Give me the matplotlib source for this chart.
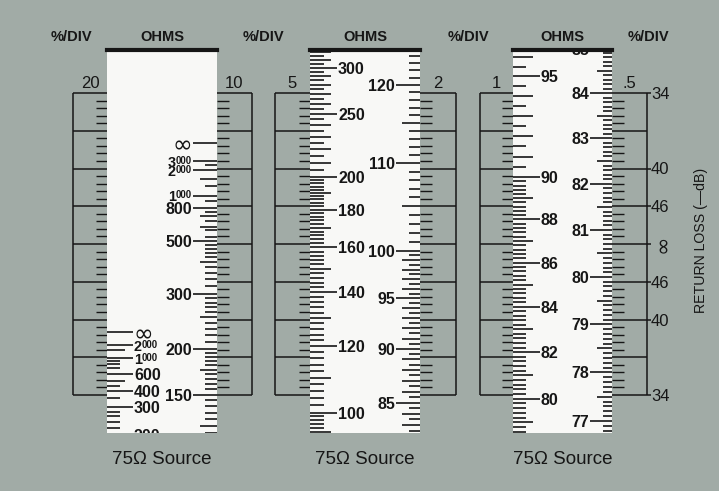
import numpy as np
import matplotlib.pyplot as plt

plt.rcParams['font.family'] = ['Liberation Sans', 'DejaVu Sans']

W, H = 719, 491
BG = '#a1aba6'
INK = '#161616'
PAPER = '#f8f8f6'

# layout in pixels (y grows downwards)
GRID_TOP, GRID_BOT, N_DIV = 93, 395, 8
DIV_PX = (GRID_BOT - GRID_TOP) / N_DIV
ZERO_Y = 520.5          # row where the reflection coefficient is zero on every strip
STRIP_TOP, STRIP_BOT = 50, 433
box_left = [73, 275, 480]
box_right = [252, 456, 647]
strip_left = [107, 310, 513]
strip_right = [217, 420, 612]

# %/DIV of the scale printed on each side of a strip
pct_left = [20, 5, 1]
pct_right = [10, 2, 0.5]
pct_text_left = ['20', '5', '1']
pct_text_right = ['10', '2', '.5']

# ohm scales: labelled values, tick runs (low, high, step, longer every), odd extra ticks
s1l_labels = [np.inf, 2000, 1000, 600, 400, 300, 200]
s1l_runs = [(180, 300, 20, 100)]
s1l_short = [900, 800, 700, 450, 350]
s1l_mid = [1500, 500]

s1r_labels = [np.inf, 3000, 2000, 1000, 800, 500, 300, 200, 150]
s1r_runs = [(300, 500, 20, 100), (200, 300, 10, 50), (115, 200, 5, 25)]
s1r_short = [2500, 1250, 900, 750, 650, 575, 525]
s1r_mid = [1500, 700, 600]

s2l_labels = [300, 250, 200, 180, 160, 140, 120, 100]
s2l_runs = [(200, 330, 5, 10), (100, 200, 2, 10), (90, 100, 1, 5)]

s2r_labels = [120, 110, 100, 95, 90, 85]
s2r_runs = [(100, 126, 1, 5), (80, 100, 0.5, 1)]

s3l_labels = [95, 90, 88, 86, 84, 82, 80]
s3l_runs = [(90, 97, 0.5, 1), (76, 90, 0.2, 1)]

s3r_labels = [85, 84, 83, 82, 81, 80, 79, 78, 77]
s3r_runs = [(76, 86, 0.1, 0.5)]

# return loss (-dB) marks on the right of the last box
rl_db = [34, 40, 46]


def rho(z):
    z = np.asarray(z, dtype=float)
    return np.where(np.isinf(z), 1.0, (z - 75) / (z + 75))


def run_ticks(runs, labels):
    short, mid = [], []
    for lo, hi, step, every in runs:
        n = int(round((hi - lo) / step))
        for k in range(n + 1):
            v = round(lo + k * step, 4)
            if np.any(np.isclose(v, labels)):
                continue
            if abs(v / every - round(v / every)) < 1e-6:
                mid.append(v)
            else:
                short.append(v)
    return short, mid


def put_label(ax, x, z, side, size):
    ha = 'right' if side == 'right' else 'left'
    r = float(rho(z))
    kw = dict(color=INK, clip_on=True)
    if np.isinf(z):
        ax.text(x, r, '\u221e', ha=ha, va='center_baseline', fontsize=17,
                family='DejaVu Sans', **kw)
    elif z >= 1000:
        big, small = size * 0.9, size * 0.6
        lift = 0.36 * big
        if side == 'right':
            sup = ax.annotate('000', xy=(x, r), xytext=(0, lift), textcoords='offset points',
                              ha='right', va='top', fontsize=small, fontweight='bold', **kw)
            ax.annotate(str(int(z // 1000)), xy=(0, 1), xycoords=sup, ha='right', va='top',
                        fontsize=big, fontweight='bold', **kw)
        else:
            main = ax.annotate(str(int(z // 1000)), xy=(x, r), xytext=(0, lift),
                               textcoords='offset points', ha='left', va='top',
                               fontsize=big, fontweight='bold', **kw)
            ax.annotate('000', xy=(1, 1), xycoords=main, ha='left', va='top',
                        fontsize=small, fontweight='bold', **kw)
    else:
        ax.text(x, r, f'{z:g}', ha=ha, va='center_baseline', fontsize=size,
                fontweight='bold', **kw)


def draw_scale(ax, side, edge, labels, runs, short_extra, mid_extra, lengths, size):
    short, mid = run_ticks(runs, labels)
    short = short + short_extra
    mid = mid + mid_extra
    l_short, l_mid, l_major = lengths
    sign = -1 if side == 'right' else 1
    for vals, ln in ((short, l_short), (mid, l_mid), (labels, l_major)):
        if len(vals):
            ax.hlines(rho(vals), edge, edge + sign * ln, color=INK, lw=1.2)
    for z in labels:
        put_label(ax, edge + sign * (l_major + 1), z, side, size)


fig = plt.figure(figsize=(W / 100, H / 100), dpi=100, facecolor=BG)
ax = fig.add_axes([0, 0, 1, 1])
ax.set_xlim(0, W)
ax.set_ylim(H, 0)
ax.axis('off')

# %/DIV boxes with their fine ticks beside the strips
rows = GRID_TOP + DIV_PX * np.arange(N_DIV + 1)
fine = GRID_TOP + DIV_PX / 5 * np.array([k for k in range(1, N_DIV * 5) if k % 5])
for i in range(3):
    ax.hlines(rows, box_left[i], box_right[i], color=INK, lw=1.1)
    ax.vlines([box_left[i], box_right[i]], GRID_TOP, GRID_BOT, color=INK, lw=1.1)
    ax.hlines(fine, strip_left[i] - 11, strip_left[i], color=INK, lw=1.0)
    ax.hlines(fine, strip_right[i], strip_right[i] + 12, color=INK, lw=1.0)
    ax.text((box_left[i] + strip_left[i]) / 2, 82, pct_text_left[i], ha='center',
            va='center_baseline', fontsize=12, color=INK)
    ax.text((box_right[i] + strip_right[i]) / 2, 82, pct_text_right[i], ha='center',
            va='center_baseline', fontsize=12, color=INK)
    ax.text((strip_left[i] + strip_right[i]) / 2, 35, 'OHMS', ha='center',
            va='center_baseline', fontsize=10.5, fontweight='bold', color=INK)
    ax.text((strip_left[i] + strip_right[i]) / 2, 457, '75\u03a9 Source', ha='center',
            va='center_baseline', fontsize=13.5, color=INK)

for x in [box_left[0] - 2, (box_right[0] + box_left[1]) / 2,
          (box_right[1] + box_left[2]) / 2, box_right[2] + 1]:
    ax.text(x, 35, '%/DIV', ha='center', va='center_baseline', fontsize=10.5,
            fontweight='bold', color=INK)

ax.text(701, 240, 'RETURN LOSS (\u2014dB)', rotation=90, ha='center', va='center',
        fontsize=10.2, color=INK)

# return loss scale of the 0.5 %/DIV box
rl = fig.add_axes([box_left[2] / W, 1 - GRID_BOT / H,
                   (box_right[2] - box_left[2]) / W, (GRID_BOT - GRID_TOP) / H])
rl.set_xlim(box_left[2], box_right[2])
half = N_DIV / 2 * pct_right[2] / 100
rl.set_ylim(-half, half)
rl.axis('off')
for db in rl_db:
    r = 10 ** (-db / 20)
    for s in (1, -1):
        rl.hlines(s * r, box_right[2], box_right[2] + 4, color=INK, lw=1.1, clip_on=False)
        rl.text(box_right[2] + 4, s * r, str(db), ha='left', va='center_baseline',
                fontsize=12, color=INK, clip_on=False)
rl.hlines(0, box_right[2], box_right[2] + 4, color=INK, lw=1.1, clip_on=False)
rl.text(box_right[2] + 5, 0, '\u221e', rotation=90, ha='left', va='center',
        fontsize=16, family='DejaVu Sans', color=INK, clip_on=False)

# the three white ohm strips
scale_specs = [
    ((s1l_labels, s1l_runs, s1l_short, s1l_mid, (13, 18, 26), 11.5),
     (s1r_labels, s1r_runs, s1r_short, s1r_mid, (12, 17, 24), 11.5)),
    ((s2l_labels, s2l_runs, [], [], (14, 21, 27), 11.5),
     (s2r_labels, s2r_runs, [], [], (11, 18, 24), 11.5)),
    ((s3l_labels, s3l_runs, [], [], (13, 20, 27), 11.5),
     (s3r_labels, s3r_runs, [], [], (9, 15, 22), 11.5)),
]
for i in range(3):
    sl, sr = strip_left[i], strip_right[i]
    axl = fig.add_axes([sl / W, 1 - STRIP_BOT / H, (sr - sl) / W, (STRIP_BOT - STRIP_TOP) / H])
    axl.set_facecolor(PAPER)
    axl.set_xlim(sl, sr)
    axr = axl.twinx()
    for a, pct in ((axl, pct_left[i]), (axr, pct_right[i])):
        k = DIV_PX * 100 / pct
        a.set_ylim((ZERO_Y - STRIP_BOT) / k, (ZERO_Y - STRIP_TOP) / k)
        a.set_xticks([])
        a.set_yticks([])
        for sp in a.spines.values():
            sp.set_visible(False)
    axl.spines['top'].set_visible(True)
    axl.spines['top'].set_linewidth(3)
    axl.spines['top'].set_color(INK)
    axr.set_zorder(axl.get_zorder() + 0.1)
    left_spec, right_spec = scale_specs[i]
    draw_scale(axl, 'left', sl, *left_spec)
    draw_scale(axr, 'right', sr, *right_spec)

fig.savefig('out.png', dpi=100, facecolor=BG)
